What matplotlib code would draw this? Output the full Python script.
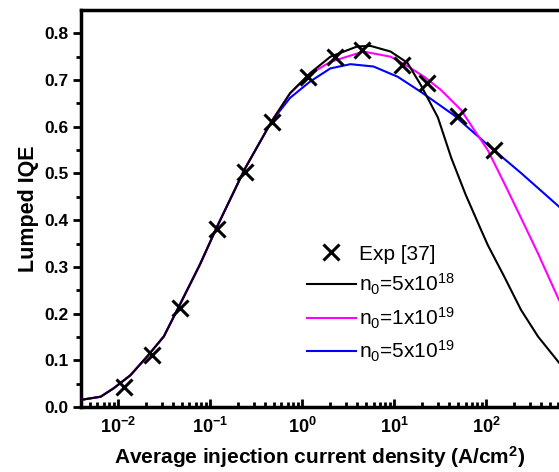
import numpy as np
import matplotlib
matplotlib.use('Agg')
import matplotlib.pyplot as plt
from matplotlib.ticker import FixedLocator, FixedFormatter, NullFormatter

plt.rcParams['font.family'] = 'Liberation Sans'
plt.rcParams['mathtext.fontset'] = 'custom'
plt.rcParams['mathtext.rm'] = 'Liberation Sans'
plt.rcParams['mathtext.it'] = 'Liberation Sans:italic'
plt.rcParams['mathtext.bf'] = 'Liberation Sans:bold'

# experimental points
x_exp = [0.0116, 0.0235, 0.047, 0.119, 0.24, 0.47, 1.17, 2.31, 4.52, 12.3, 23.1, 49.2, 123]
y_exp = [0.043, 0.111, 0.212, 0.381, 0.503, 0.610, 0.707, 0.750, 0.764, 0.732, 0.693, 0.622, 0.550]

# model curves - all three coincide at low current
x_low = [0.0039, 0.0065, 0.009, 0.0137, 0.0208, 0.0316, 0.048, 0.078, 0.119, 0.24, 0.47]
y_low = [0.015, 0.022, 0.040, 0.068, 0.108, 0.151, 0.222, 0.305, 0.385, 0.510, 0.612]

x_5e18 = [0.745, 1.23, 2.04, 4.0, 5.6, 9.2, 14, 19.5, 30, 42, 60, 88, 105, 158, 240, 367, 621]
y_5e18 = [0.672, 0.715, 0.750, 0.772, 0.773, 0.761, 0.737, 0.690, 0.620, 0.533, 0.455, 0.380, 0.346, 0.279, 0.208, 0.151, 0.095]

x_1e19 = [0.745, 1.23, 2.04, 4.67, 9.2, 14, 21.3, 32.3, 53.6, 74.5, 104.6, 158, 240, 367, 621]
y_1e19 = [0.672, 0.713, 0.739, 0.761, 0.750, 0.730, 0.707, 0.679, 0.636, 0.593, 0.550, 0.479, 0.405, 0.329, 0.229]

x_5e19 = [0.745, 1.23, 2.04, 3.37, 6.0, 11, 19.5, 44.7, 104.6, 240, 621]
y_5e19 = [0.662, 0.697, 0.725, 0.734, 0.729, 0.707, 0.675, 0.625, 0.561, 0.501, 0.429]

labels = ['Exp [37]', r'n$_0$=5x10$^{18}$', r'n$_0$=1x10$^{19}$', r'n$_0$=5x10$^{19}$']

fig = plt.figure(figsize=(5.59, 4.72), dpi=100)
ax = fig.add_axes([81/559, 65/472, 478/559, 397/472])

ax.plot(x_low + x_5e19, y_low + y_5e19, color='#0000FF', lw=1.5, label=labels[3], zorder=2)
ax.plot(x_low + x_1e19, y_low + y_1e19, color='#FF00FF', lw=1.5, label=labels[2], zorder=3)
ax.plot(x_low + x_5e18, y_low + y_5e18, color='black', lw=1.5, label=labels[1], zorder=4)
ax.plot(x_exp, y_exp, 'x', color='black', ms=11, mew=2.2, label=labels[0], zorder=5)

ax.set_xscale('log')
ax.set_xlim(10**-2.4, 621)
ax.set_ylim(0, 0.85)

# y ticks
ax.yaxis.set_major_locator(FixedLocator(np.arange(0, 0.81, 0.1)))
ax.yaxis.set_minor_locator(FixedLocator(np.arange(0.05, 0.85, 0.1)))
ax.set_yticklabels(['%.1f' % v for v in np.arange(0, 0.81, 0.1)], fontweight='bold', fontsize=12.5)
ax.tick_params(axis='y', which='major', direction='out', length=6, width=2, pad=3)
ax.tick_params(axis='y', which='minor', direction='out', length=3.5, width=2)

# x ticks
decades = [-2, -1, 0, 1, 2]
ax.xaxis.set_major_locator(FixedLocator([10.0**d for d in decades]))
ax.xaxis.set_major_formatter(FixedFormatter([r'$\mathbf{10^{%d}}$' % d for d in decades]))
minors = [m * 10.0**d for d in range(-3, 3) for m in range(2, 10)]
ax.xaxis.set_minor_locator(FixedLocator(minors))
ax.xaxis.set_minor_formatter(NullFormatter())
ax.tick_params(axis='x', which='major', direction='in', length=6, width=2, labelsize=13, pad=7)
ax.tick_params(axis='x', which='minor', direction='in', length=3.5, width=2)

for s in ['left', 'bottom', 'top']:
    ax.spines[s].set_linewidth(2.5)
ax.spines['right'].set_visible(False)

ax.set_xlabel(r'Average injection current density (A/cm$^\mathbf{2}$)', fontsize=15, fontweight='bold', labelpad=5)
ax.set_ylabel('Lumped IQE', fontsize=15.5, fontweight='bold', labelpad=4)

h, l = ax.get_legend_handles_labels()
order = [3, 2, 1, 0]
ax.legend([h[i] for i in order], [l[i] for i in order], frameon=False, fontsize=15,
          loc='upper left', bbox_to_anchor=(0.455, 0.43), handlelength=2.35,
          labelspacing=0.4, handletextpad=0.15, borderaxespad=0)

fig.savefig('out.png', dpi=100)
